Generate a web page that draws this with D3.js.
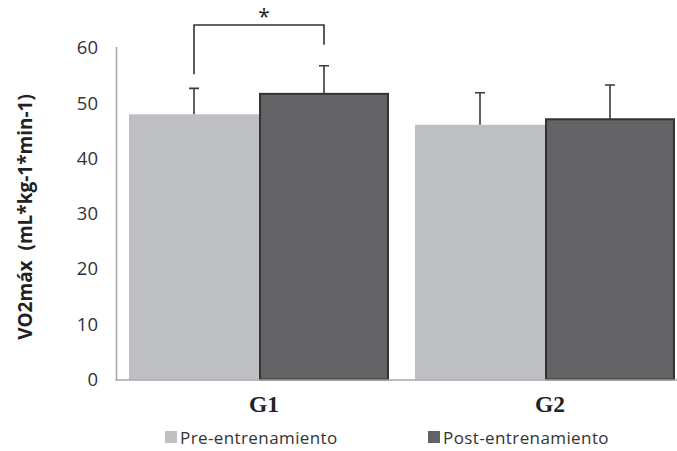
<!DOCTYPE html>
<html><head><meta charset="utf-8">
<script src="https://cdn.jsdelivr.net/npm/d3@7"></script>
<style>body{margin:0;background:#fff}svg{display:block}</style>
</head><body><svg id="c" width="677" height="451"></svg>
<script>
const categories = ["G1", "G2"];
const seriesNames = ["Pre-entrenamiento", "Post-entrenamiento"];
const preValues = [48.0, 46.1];
const postValues = [51.7, 47.1];
const preErrors = [4.7, 5.8];
const postErrors = [5.1, 6.2];
const yTicks = [0, 10, 20, 30, 40, 50, 60];

const svg = d3.select("#c");
const y = d3.scaleLinear().domain([0, 60]).range([379.5, 48]);
const x0 = d3.scaleBand().domain(categories).range([116, 688]).paddingInner(0).paddingOuter(0);
const x1 = d3.scaleBand().domain(seriesNames).range([13, 273]).padding(0);
const colors = {"Pre-entrenamiento": "#bebfc2", "Post-entrenamiento": "#636365"};

const data = categories.map((c, i) => ({
  cat: c,
  bars: [
    {s: seriesNames[0], v: preValues[i], e: preErrors[i]},
    {s: seriesNames[1], v: postValues[i], e: postErrors[i]}
  ]
}));

svg.append("line").attr("x1", 116.5).attr("x2", 116.5).attr("y1", y(60) - 1).attr("y2", y(0))
  .attr("stroke", "#a6a6a6").attr("stroke-width", 1.5);

const g = svg.selectAll("g.grp").data(data).enter().append("g")
  .attr("transform", d => `translate(${x0(d.cat)},0)`);

g.selectAll("rect").data(d => d.bars).enter().append("rect")
  .attr("x", d => x1(d.s) + (d.s === seriesNames[1] ? 1 : 0))
  .attr("width", d => x1.bandwidth() - (d.s === seriesNames[1] ? 2 : 0))
  .attr("y", d => y(d.v))
  .attr("height", d => y(0) - y(d.v))
  .attr("fill", d => colors[d.s])
  .attr("stroke", d => d.s === seriesNames[1] ? "#333" : "none")
  .attr("stroke-width", 2);

g.selectAll("path.err").data(d => d.bars).enter().append("path")
  .attr("d", d => {
    const cx = x1(d.s) + x1.bandwidth() / 2;
    return `M${cx},${y(d.v)}V${y(d.v + d.e)}M${cx - 5},${y(d.v + d.e)}H${cx + 5}`;
  })
  .attr("stroke", "#3a3a3a").attr("stroke-width", 1.6).attr("fill", "none");

svg.append("line").attr("x1", 115).attr("x2", 677).attr("y1", y(0) + 0.5).attr("y2", y(0) + 0.5)
  .attr("stroke", "#a6a6a6").attr("stroke-width", 1.5);

const yAxis = d3.axisLeft(y).tickValues(yTicks).tickSize(0).tickPadding(0);
const ya = svg.append("g").attr("transform", "translate(98,0)").call(yAxis);
ya.select(".domain").remove();
ya.selectAll("text").attr("font-family", "Open Sans").attr("font-size", 18.5).attr("fill", "#333");

svg.append("text").attr("transform", "translate(32,217) rotate(-90)")
  .attr("text-anchor", "middle").attr("font-family", "Open Sans").attr("font-weight", "bold")
  .attr("font-size", 19).attr("fill", "#222").attr("xml:space", "preserve")
  .text("VO2máx  (mL*kg-1*min-1)");

svg.selectAll("text.cat").data(categories).enter().append("text")
  .attr("x", d => x0(d) + x0.bandwidth() / 2 + 5).attr("y", 412)
  .attr("text-anchor", "middle").attr("font-family", "Liberation Serif").attr("font-weight", "bold")
  .attr("font-size", 23.5).attr("fill", "#222").text(d => d);

const preC = x0("G1") + x1(seriesNames[0]) + x1.bandwidth() / 2;
const postC = x0("G1") + x1(seriesNames[1]) + x1.bandwidth() / 2;
const bTop = y(60) - 23;
svg.append("path")
  .attr("d", `M${preC},${y(preValues[0] + preErrors[0]) - 14}V${bTop}H${postC}V${y(postValues[0] + postErrors[0]) - 21}`)
  .attr("stroke", "#333").attr("stroke-width", 1.6).attr("fill", "none");
svg.append("text").attr("x", (preC + postC) / 2 + 5).attr("y", 24).attr("text-anchor", "middle")
  .attr("font-family", "Open Sans").attr("font-size", 21).attr("fill", "#222").text("*");

const legX = [165, 428];
const lg = svg.selectAll("g.leg").data(seriesNames).enter().append("g")
  .attr("transform", (d, i) => `translate(${legX[i]},431)`);
lg.append("rect").attr("width", 12).attr("height", 12).attr("fill", d => colors[d]);
lg.append("text").attr("x", 15).attr("y", 12.5).attr("font-family", "Open Sans").attr("font-size", 17)
  .attr("letter-spacing", 0.4).attr("fill", "#333").text(d => d);
</script></body></html>
